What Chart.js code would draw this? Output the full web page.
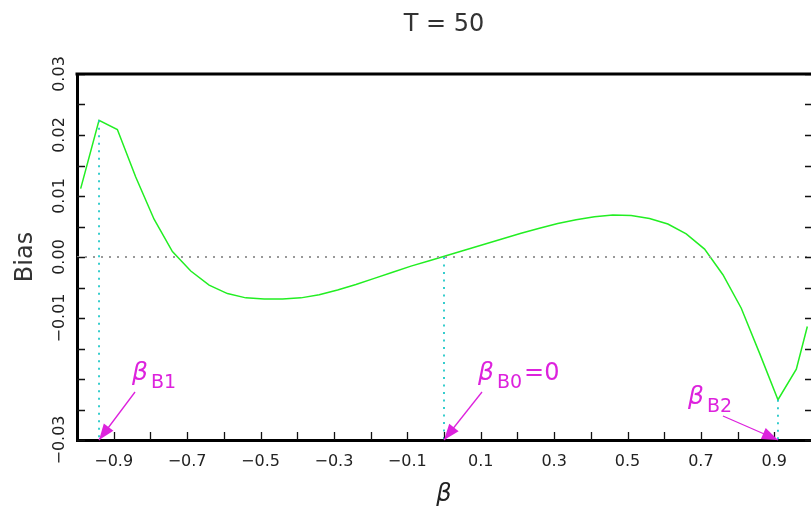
<!DOCTYPE html>
<html>
<head>
<meta charset="utf-8">
<script src="https://cdn.jsdelivr.net/npm/chart.js@4/dist/chart.umd.min.js"></script>
<style>
  html, body { margin: 0; padding: 0; background: #fff; }
  #wrap { width: 811px; height: 511px; }
</style>
</head>
<body>
<div id="wrap"><canvas id="chart"></canvas></div>
<script>
// beta grid and bias
const betas = [-0.99, -0.94, -0.89, -0.84, -0.79, -0.74, -0.69, -0.64, -0.59, -0.54,
  -0.49, -0.44, -0.39, -0.34, -0.29, -0.24, -0.19, -0.14, -0.09, -0.04,
  0.01, 0.06, 0.11, 0.16, 0.21, 0.26, 0.31, 0.36, 0.41, 0.46,
  0.51, 0.56, 0.61, 0.66, 0.71, 0.76, 0.81, 0.86, 0.91, 0.96, 0.99];
const bias = [0.0112, 0.0224, 0.0209, 0.0131, 0.0062, 0.0009, -0.0023, -0.0046, -0.0060, -0.0067,
  -0.0069, -0.0069, -0.0067, -0.0062, -0.0054, -0.0045, -0.0035, -0.0025, -0.0015, -0.0006,
  0.0003, 0.0012, 0.0021, 0.0030, 0.0039, 0.0047, 0.0055, 0.0061, 0.0066, 0.0069,
  0.0068, 0.0063, 0.0054, 0.0038, 0.0013, -0.0029, -0.0084, -0.0158, -0.0234, -0.0184, -0.0114];

// marked roots: beta_B1, beta_B0, beta_B2
const rootBetas = [-0.94, 0, 0.91];
const rootBias = [0.0224, 0, -0.0234];
const rootNames = ['B1', 'B0', 'B2'];
const rootSuffix = ['', '=0', ''];

const xLabelValues = [-0.9, -0.7, -0.5, -0.3, -0.1, 0.1, 0.3, 0.5, 0.7, 0.9];
const yLabelValues = [0.03, 0.02, 0.01, 0, -0.01, -0.03];

const MINUS = '\u2212';
const fmt = (v, d) => (v < -1e-9 ? MINUS : '') + Math.abs(v).toFixed(d);
const near = (a, b) => Math.abs(a - b) < 1e-6;

const GREEN = '#22ee22';
const CYAN = '#22c8c8';
const MAGENTA = '#dd22dd';
const FONT = "'DejaVu Sans', sans-serif";

// arrow/label placement in pixels, relative to the arrow tip
const arrowStyle = [
  { start: [36, -48], label: [33, -60] },
  { start: [38, -48], label: [34, -60] },
  { start: [-55, -24], label: [-90, -36] }
];

const frame = {
  id: 'frame',
  afterDatasetsDraw(chart) {
    const { ctx, chartArea: a, scales: { x, y } } = chart;
    ctx.save();
    ctx.strokeStyle = '#111';
    ctx.lineWidth = 1.3;
    ctx.beginPath();
    x.ticks.forEach(t => {
      if (t.value <= -1 + 1e-6 || t.value >= 1 - 1e-6) return;
      const px = Math.round(x.getPixelForValue(t.value)) + 0.5;
      ctx.moveTo(px, a.bottom);
      ctx.lineTo(px, a.bottom - 8);
    });
    y.ticks.forEach(t => {
      const py = Math.round(y.getPixelForValue(t.value)) + 0.5;
      ctx.moveTo(a.left, py);
      ctx.lineTo(a.left + 8, py);
      ctx.moveTo(a.right, py);
      ctx.lineTo(a.right - 6, py);
    });
    ctx.stroke();
    ctx.strokeStyle = '#000';
    ctx.lineWidth = 3;
    ctx.beginPath();
    ctx.moveTo(a.left - 1.5, a.top);
    ctx.lineTo(a.right, a.top);
    ctx.stroke();
    ctx.restore();
  }
};

const arrows = {
  id: 'arrows',
  afterDraw(chart) {
    const { ctx, scales: { x, y } } = chart;
    ctx.save();
    ctx.strokeStyle = MAGENTA;
    ctx.fillStyle = MAGENTA;
    rootBetas.forEach((b, i) => {
      const tx = x.getPixelForValue(b);
      const ty = y.getPixelForValue(y.min);
      const st = arrowStyle[i];
      const sx = tx + st.start[0], sy = ty + st.start[1];
      const ang = Math.atan2(ty - sy, tx - sx);
      ctx.lineWidth = 1.3;
      ctx.beginPath();
      ctx.moveTo(sx, sy);
      ctx.lineTo(tx, ty);
      ctx.stroke();
      const len = 16, hw = 6;
      const bx = tx - len * Math.cos(ang), by = ty - len * Math.sin(ang);
      ctx.beginPath();
      ctx.moveTo(tx, ty);
      ctx.lineTo(bx + hw * Math.sin(ang), by - hw * Math.cos(ang));
      ctx.lineTo(bx - hw * Math.sin(ang), by + hw * Math.cos(ang));
      ctx.closePath();
      ctx.fill();
      // label
      let lx = tx + st.label[0];
      const ly = ty + st.label[1];
      ctx.textBaseline = 'alphabetic';
      ctx.textAlign = 'left';
      ctx.font = "italic 25px " + FONT;
      ctx.fillText('β', lx, ly);
      lx += ctx.measureText('β').width + 3;
      ctx.font = "19px " + FONT;
      ctx.fillText(rootNames[i], lx, ly + 8);
      lx += ctx.measureText(rootNames[i]).width + 2;
      if (rootSuffix[i]) {
        ctx.font = "24px " + FONT;
        ctx.fillText(rootSuffix[i], lx, ly);
      }
    });
    ctx.restore();
  }
};

const datasets = [
  {
    data: [{ x: -1, y: 0 }, { x: 1, y: 0 }],
    borderColor: '#999',
    borderWidth: 2,
    borderDash: [2, 6],
    pointRadius: 0
  }
];
rootBetas.forEach((b, i) => {
  datasets.push({
    data: [{ x: b, y: rootBias[i] }, { x: b, y: -0.03 }],
    borderColor: CYAN,
    borderWidth: 1.8,
    borderDash: [2, 5.5],
    pointRadius: 0
  });
});
datasets.push({
  data: betas.map((b, i) => ({ x: b, y: bias[i] })),
  borderColor: GREEN,
  borderWidth: 1.5,
  pointRadius: 0,
  tension: 0
});

new Chart(document.getElementById('chart'), {
  type: 'line',
  data: { datasets },
  options: {
    responsive: true,
    maintainAspectRatio: false,
    animation: false,
    layout: { padding: 0 },
    plugins: {
      legend: { display: false },
      tooltip: { enabled: false },
      title: {
        display: true,
        text: 'T = 50',
        fullSize: false,
        color: '#333',
        font: { family: FONT, size: 24, weight: 'normal' },
        padding: { top: 10, bottom: 35.2 }
      }
    },
    scales: {
      x: {
        type: 'linear',
        min: -1,
        max: 1,
        afterFit: s => { s.height = 71; },
        grid: { display: false, tickLength: 12 },
        border: { display: true, color: '#000', width: 3 },
        ticks: {
          stepSize: 0.1,
          autoSkip: false,
          maxRotation: 0,
          padding: 0,
          color: '#222',
          font: { family: FONT, size: 16 },
          callback: v => xLabelValues.some(l => near(l, v)) ? fmt(v, 1) : ''
        },
        title: {
          display: true,
          text: 'β',
          color: '#222',
          font: { family: FONT, size: 24, style: 'italic' },
          padding: { top: 0, bottom: 2 }
        }
      },
      y: {
        type: 'linear',
        min: -0.03,
        max: 0.03,
        afterFit: s => { s.width = 77; },
        grid: { display: false, drawTicks: false },
        border: { display: true, color: '#000', width: 3 },
        ticks: {
          stepSize: 0.005,
          autoSkip: false,
          minRotation: 90,
          maxRotation: 90,
          crossAlign: 'center',
          padding: -7,
          color: '#222',
          font: { family: FONT, size: 16 },
          callback: v => yLabelValues.some(l => near(l, v)) ? fmt(v, 2) : ''
        },
        title: {
          display: true,
          text: 'Bias',
          color: '#333',
          font: { family: FONT, size: 24 },
          padding: { top: 11 }
        }
      }
    }
  },
  plugins: [frame, arrows]
});
</script>
</body>
</html>
